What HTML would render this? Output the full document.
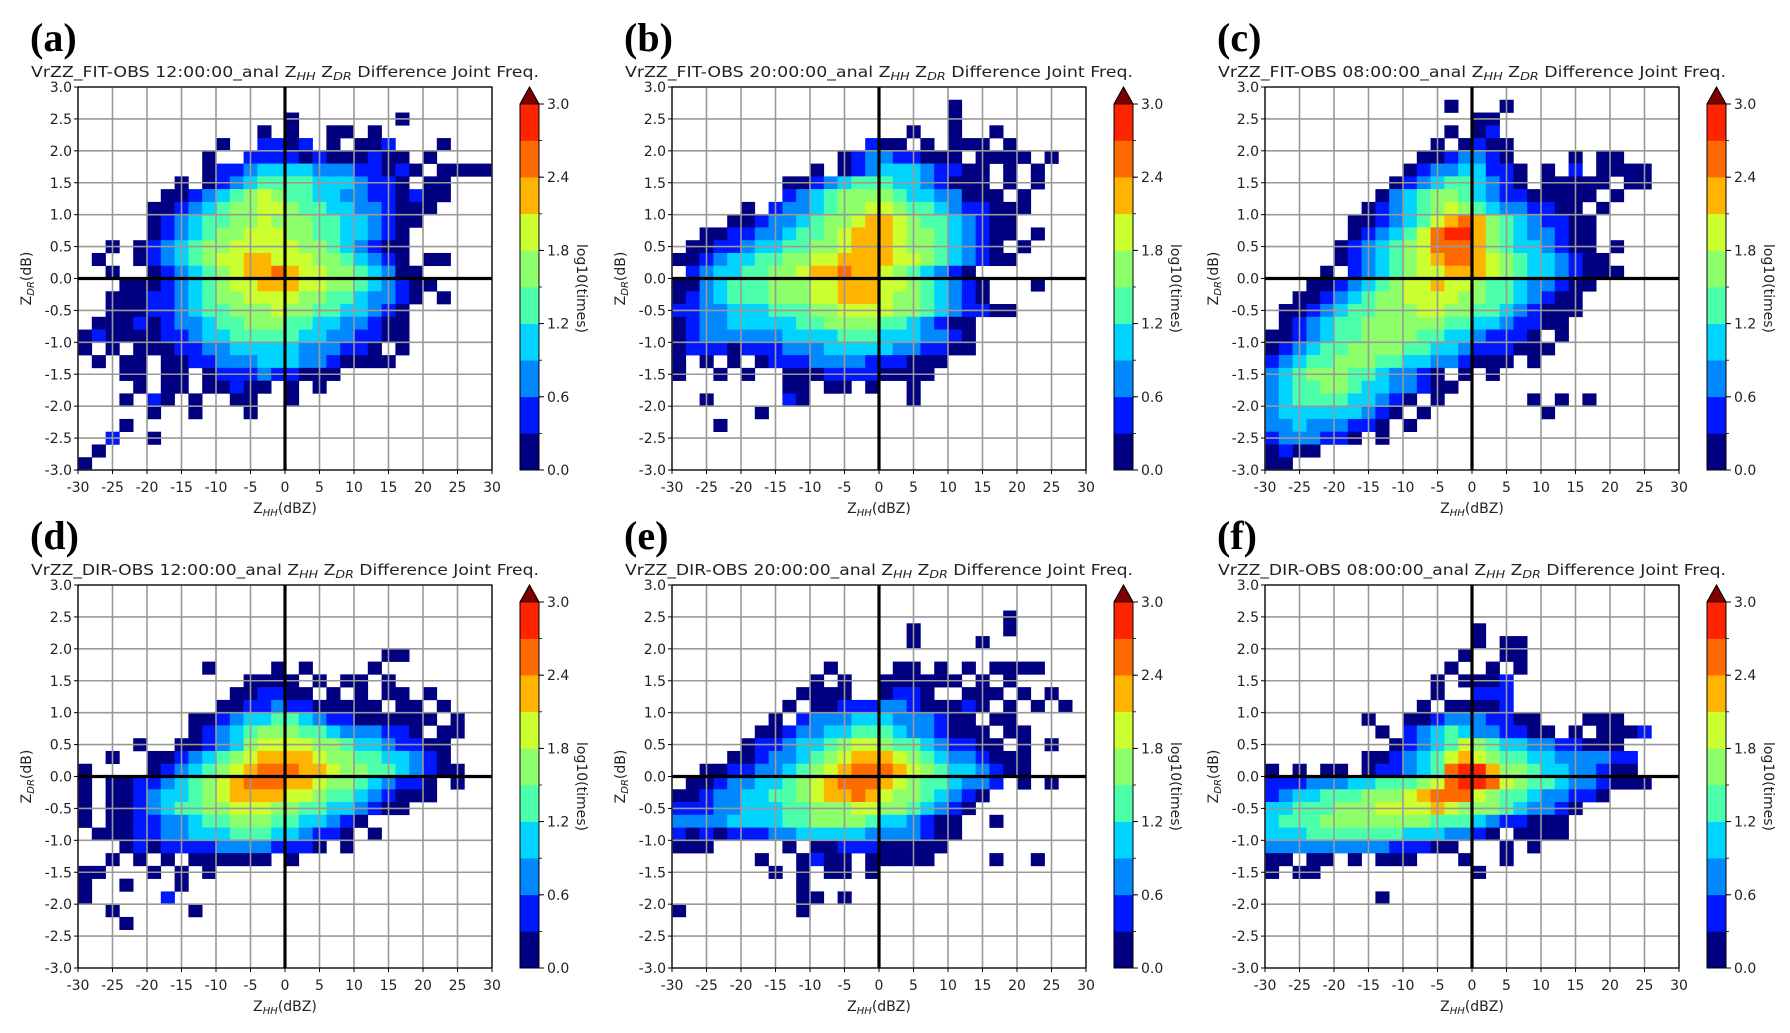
<!DOCTYPE html>
<html><head><meta charset="utf-8">
<style>
html,body{margin:0;padding:0;background:#fff;}
svg{display:block;}
text{font-family:"DejaVu Sans","Liberation Sans",sans-serif;fill:#222;}
.lbl{font-family:"Liberation Serif",serif;font-weight:bold;fill:#000;}
</style></head>
<body>
<svg id="fig" width="1790" height="1033" viewBox="0 0 1790 1033" xmlns="http://www.w3.org/2000/svg"></svg>
<script>
// ---- data (levels 0-9 = colorbar bins of log10(times); '.' = no data) ----
// rows top->bottom: ZDR 3.0..-3.0 step 0.2; cols: ZHH -30..30 step 2
const xTicks = [-30,-25,-20,-15,-10,-5,0,5,10,15,20,25,30];
const yTicks = [3.0,2.5,2.0,1.5,1.0,0.5,0.0,-0.5,-1.0,-1.5,-2.0,-2.5,-3.0];
const cbTicks = [0.0,0.6,1.2,1.8,2.4,3.0];
const cbLevels = [0,0.3,0.6,0.9,1.2,1.5,1.8,2.1,2.4,2.7,3.0];
const panelLabels = ["(a)","(b)","(c)","(d)","(e)","(f)"];
const panelNames = ["VrZZ_FIT-OBS 12:00:00_anal","VrZZ_FIT-OBS 20:00:00_anal","VrZZ_FIT-OBS 08:00:00_anal","VrZZ_DIR-OBS 12:00:00_anal","VrZZ_DIR-OBS 20:00:00_anal","VrZZ_DIR-OBS 08:00:00_anal"];
const panelA = [
"..............................",
"..............................",
"...............0.......0......",
".............0.0..00.0........",
"..........0..1101.0.001...0...",
".........0..111101000100.0....",
".........0112333322211010.0000",
".......0.012344443332110.00...",
"......001234565443322110100...",
".....001234556654433221000....",
".....01234455655544332100.....",
".....0123455666554433210......",
"..0.01234556666655432100......",
".0..01234566776665543210.00...",
"..0..01234567787665543200.....",
"...00012345667776655432100....",
"..00011234556666554432210.0...",
"..0001123445556554433210......",
".00010122344555443322100......",
"010000112334444433221100......",
"0.0.000112233333222110.0......",
".0.00.00112223332210000.......",
"...00.00.0111211000...........",
"....0.00.00100.0.0............",
"...0.10.0..00..0..............",
".....0..0...0.................",
"...0..........................",
"..1..0........................",
".0............................",
"0............................."];
const panelB = [
"..............................",
"....................0.........",
"....................0.........",
".................0..0..0......",
"..............100.0.000.0.....",
"............012211000.0000.0..",
"..........0.01233321100.0.0...",
"........001234443321000.0.0...",
"........1234555543322000.0....",
".....0.1223455665443211000....",
"....001223455677654432100.....",
"..00112234456777655432100.0...",
".00112334455677765543210.0....",
"0012334455667777665432100.....",
".123344556778776543210........",
"00234445556677766543210...0...",
"01234445556677765543210.......",
"1122333444556666554321100.....",
"0122333334455554432100........",
"0122222233334443332210........",
"0111011122233333221100........",
"0.0.0.01112222111000..........",
"0..0.0..00011110000...........",
"........00.00.0..0............",
"..0.....10.......0............",
"......0.......................",
"...0..........................",
"..............................",
"..............................",
".............................."];
const panelC = [
"..............................",
".............0...0............",
"...............00.............",
".............0.01.............",
"............0.0100............",
"...........0012210....0.00....",
"..........012233110.0.1.0000..",
".........0123443210.00000.00..",
"........0234554321100000.0....",
".......0123456543221100.0.....",
"......001234678754321100......",
"......012346899754322100......",
".....0123456888754332100.0....",
".....01234567887654332100.....",
"....0.12345667776543321000....",
"...001234566766544322100......",
"..001234556666554432100.......",
".0012344555665544321000.......",
".012344555555443321100........",
"00123445555443321110.0........",
"012344555544332111000.........",
"123445554433221000.0..........",
"2345554432210.0.0.............",
"23445543322100................",
"23444433210.0......0.0.0......",
"2333333210.0........0.........",
"223222110.0...................",
"1222110.0.....................",
"0100..........................",
"00............................"];
const panelD = [
"..............................",
"..............................",
"..............................",
"..............................",
"..............................",
"......................00......",
".........0....0.0....0........",
"............0000.0.00.0.......",
"...........001100.0.0.00.0....",
"..........001121100000.00.0...",
"........001233443211000000.0..",
"........01234555443222110.00..",
"....0..00123566665543321100...",
"..0..0012345677776554433210...",
"0....01234567888776554432100..",
"0.001123456788877655432110.0..",
"0.001233456777766544321000....",
"0.0012344556665544332100......",
"0.0011223445554433210.........",
".0001122333444332110.0........",
"...010111122221110.0..........",
"..0.0.0.000000.0..............",
"00...0.0.0....................",
"0..0...0......................",
"0.....1.......................",
"..0.....0.....................",
"...0..........................",
"..............................",
"..............................",
".............................."];
const panelE = [
"..............................",
"..............................",
"........................0.....",
".................0......0.....",
".................0....0.......",
"..............................",
"...........0....00.0.0.0000...",
"..........0.0..000000.0.0.....",
".........0000..0110..000.0.0..",
"........0.0011122100010.0.0.0.",
".......0.1222333222100.00.....",
"......00122334443221000.00....",
".....0112334566544321100.0.0..",
"....0012234567776543221000....",
"..001122345678887654332100....",
".00122334567888765443221.0.0..",
"00122334456778765543210.......",
"1112233344555665543210........",
"222233334455554332100..0......",
"101011122333332222100.........",
"000.....0.0011100000..........",
"......0..0100.00000....0..0...",
".......0.0.00.0...............",
".........0....................",
".........00.0.................",
"0........0....................",
"..............................",
"..............................",
"..............................",
".............................."];
const panelF = [
"..............................",
"..............................",
"..............................",
"...............0..............",
"...............0.00...........",
"..............0..00...........",
".............0..0.0...........",
"............0.0001............",
"............0..111............",
"...........0.00001............",
".......0..0012221100...000....",
"........0.12343221100.0.0001..",
".........01234654332211000....",
".......00123467654433222211...",
"0.0.00.01123489975543322100...",
"1112223344456899865443221000..",
"1233444555678886544322110.....",
"33444555666676555432210.......",
"3444555555554443211000........",
"33344444443332210.0000........",
"22222222211100...0.0..........",
"00.00.0.000...0..0............",
"0.00...........0..............",
"..............................",
"........0.....................",
"..............................",
"..............................",
"..............................",
"..............................",
".............................."];
const panels = [panelA,panelB,panelC,panelD,panelE,panelF];
const levelColors = ["#000080","#0018ff","#0088ff","#00d4ff","#4cffaa","#8cff6a","#ccff30","#ffb400","#ff6a00","#ff2400"];

const NS = "http://www.w3.org/2000/svg";
const svg = document.getElementById("fig");
function mk(tag, attrs, parent){
  const e = document.createElementNS(NS, tag);
  for (const k in attrs) e.setAttribute(k, attrs[k]);
  (parent||svg).appendChild(e);
  return e;
}
const W = 414, H = 383;
const lefts = [78, 672, 1265];
const tops = [87, 585];

panels.forEach((grid, pi) => {
  const px = lefts[pi % 3], py = tops[Math.floor(pi / 3)];
  const xS = v => px + (v + 30) / 60 * W;
  const yS = v => py + (3 - v) / 6 * H;
  const g = mk("g", {});
  
  

  const lab = mk("text", {x: px - 48, y: py - 36, "font-size": 40, class: "lbl"}, g);
  lab.textContent = panelLabels[pi];
  
  

  const t = mk("text", {x: px + W / 2, y: py - 10, "font-size": 15, "text-anchor": "middle", textLength: 508, lengthAdjust: "spacingAndGlyphs"}, g);
  
  
  t.innerHTML = panelNames[pi] + ' Z<tspan font-size="11" font-style="italic" dy="3">HH</tspan><tspan dy="-3"> Z</tspan><tspan font-size="11" font-style="italic" dy="3">DR</tspan><tspan dy="-3"> Difference Joint Freq.</tspan>';

  const cg = mk("g", {}, g);
  
  
  grid.forEach((row, r) => {
    for (let c = 0; c < 30; c++) {
      const ch = row[c];
      if (ch === undefined || ch === '.') continue;
      const lv = +ch;
      const x0 = xS(-30 + 2 * c), x1 = xS(-28 + 2 * c);
      const y0 = yS(3 - 0.2 * r), y1 = yS(3 - 0.2 * (r + 1));
      const cell = mk("rect", {x: x0.toFixed(2), y: y0.toFixed(2), width: (x1 - x0 + 0.3).toFixed(2), height: (y1 - y0 + 0.3).toFixed(2), fill: levelColors[lv]}, cg);
      
      
    }
  });

  xTicks.forEach(v => { mk("line", {x1: xS(v), x2: xS(v), y1: py, y2: py + H, stroke: "#999", "stroke-width": 1.6}, g); });
  yTicks.forEach(v => { mk("line", {x1: px, x2: px + W, y1: yS(v), y2: yS(v), stroke: "#999", "stroke-width": 1.6}, g); });
  const zx = mk("line", {x1: xS(0), x2: xS(0), y1: py, y2: py + H, stroke: "#000", "stroke-width": 3.2}, g);
  
  
  const zy = mk("line", {x1: px, x2: px + W, y1: yS(0), y2: yS(0), stroke: "#000", "stroke-width": 3.2}, g);
  
  
  mk("rect", {x: px, y: py, width: W, height: H, fill: "none", stroke: "#000", "stroke-width": 1.2}, g);

  xTicks.forEach(v => {
    mk("line", {x1: xS(v), x2: xS(v), y1: py + H, y2: py + H + 4, stroke: "#000", "stroke-width": 1}, g);
    const tl = mk("text", {x: xS(v), y: py + H + 22, "font-size": 14, "text-anchor": "middle"}, g);
    tl.textContent = v;
    
    
  });
  yTicks.forEach(v => {
    mk("line", {x1: px - 4, x2: px, y1: yS(v), y2: yS(v), stroke: "#000", "stroke-width": 1}, g);
    const tl = mk("text", {x: px - 6, y: yS(v) + 5, "font-size": 14, "text-anchor": "end"}, g);
    tl.textContent = v.toFixed(1);
    
    
  });
  const xt = mk("text", {x: px + W / 2, y: py + H + 43, "font-size": 14, "text-anchor": "middle"}, g);
  xt.innerHTML = 'Z<tspan font-size="10" font-style="italic" dy="3">HH</tspan><tspan dy="-3">(dBZ)</tspan>';
  
  
  const yt = mk("text", {x: 0, y: 0, "font-size": 14, "text-anchor": "middle", transform: `translate(${px - 47},${py + H / 2}) rotate(-90)`}, g);
  yt.innerHTML = 'Z<tspan font-size="10" font-style="italic" dy="3">DR</tspan><tspan dy="-3">(dB)</tspan>';
  
  

  const cbx = px + W + 28, cbw = 19, cbTop = py + 17, cbBot = py + H;
  const cb = mk("g", {}, g);
  
  
  const cS = v => cbBot - (v / 3) * (cbBot - cbTop);
  for (let i = 0; i < 10; i++) {
    const s = mk("rect", {x: cbx, y: cS(cbLevels[i + 1]), width: cbw, height: cS(cbLevels[i]) - cS(cbLevels[i + 1]) + 0.3, fill: levelColors[i]}, cb);
    
    
  }
  const tri = mk("polygon", {points: `${cbx},${cbTop} ${cbx + cbw / 2},${py} ${cbx + cbw},${cbTop}`, fill: "#800000", stroke: "#000", "stroke-width": 0.8}, cb);
  
  
  mk("polygon", {points: `${cbx},${cbBot} ${cbx},${cbTop} ${cbx + cbw / 2},${py} ${cbx + cbw},${cbTop} ${cbx + cbw},${cbBot}`, fill: "none", stroke: "#000", "stroke-width": 1}, cb);
  for (let i = 1; i < 10; i++) mk("line", {x1: cbx + cbw, x2: cbx + cbw + 3, y1: cS(cbLevels[i]), y2: cS(cbLevels[i]), stroke: "#000", "stroke-width": 0.8}, cb);
  cbTicks.forEach(v => {
    mk("line", {x1: cbx + cbw, x2: cbx + cbw + 5, y1: cS(v), y2: cS(v), stroke: "#000", "stroke-width": 1}, cb);
    const tl = mk("text", {x: cbx + cbw + 8, y: cS(v) + 5, "font-size": 14}, cb);
    tl.textContent = v.toFixed(1);
    
    
  });
  const ct = mk("text", {x: 0, y: 0, "font-size": 14, "text-anchor": "middle", transform: `translate(${cbx + cbw + 38},${py + H / 2 + 10}) rotate(90)`}, cb);
  ct.textContent = "log10(times)";
  
  
});
</script>
</body></html>
